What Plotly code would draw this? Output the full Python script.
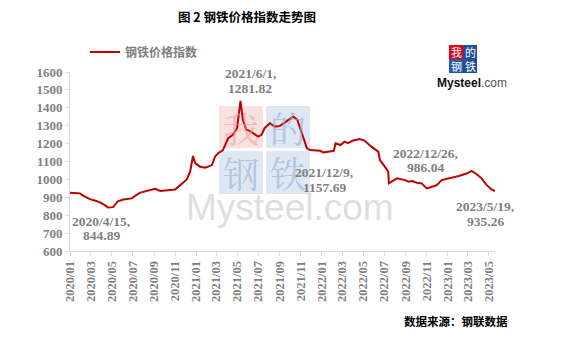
import plotly.graph_objects as go

# ---------------- data ----------------
dates = [
    "2020-01-01", "2020-01-30", "2020-02-09", "2020-02-28", "2020-03-17", "2020-03-27",
    "2020-04-11", "2020-04-20", "2020-05-05", "2020-05-19", "2020-06-04", "2020-06-28",
    "2020-07-21", "2020-08-11", "2020-09-04", "2020-09-19", "2020-10-08", "2020-11-01",
    "2020-11-16", "2020-12-05", "2020-12-15", "2020-12-23", "2020-12-30", "2021-01-13",
    "2021-01-28", "2021-02-16", "2021-02-25", "2021-03-06", "2021-03-20", "2021-04-04",
    "2021-04-18", "2021-04-30", "2021-05-10", "2021-05-17", "2021-05-27", "2021-06-06",
    "2021-06-16", "2021-06-30", "2021-07-10", "2021-07-19", "2021-08-03", "2021-08-18",
    "2021-09-02", "2021-09-21", "2021-10-10", "2021-10-22", "2021-11-04", "2021-11-19",
    "2021-11-28", "2021-12-27", "2022-01-06", "2022-02-05", "2022-02-10", "2022-02-24",
    "2022-03-08", "2022-03-18", "2022-04-02", "2022-04-21", "2022-05-05", "2022-05-25",
    "2022-06-14", "2022-06-19", "2022-07-03", "2022-07-13", "2022-07-15", "2022-08-07",
    "2022-08-31", "2022-09-10", "2022-09-20", "2022-10-04", "2022-10-18", "2022-11-02",
    "2022-11-17", "2022-12-01", "2022-12-15", "2023-01-09", "2023-02-03", "2023-02-27",
    "2023-03-12", "2023-03-26", "2023-04-10", "2023-04-25", "2023-05-09", "2023-05-19",
]
index_values = [
    925, 922, 908, 890, 879, 873,
    856, 843, 845, 878, 888, 894,
    925, 935, 947, 935, 940, 944,
    968, 1000, 1045, 1131, 1090, 1071,
    1065, 1080, 1127, 1146, 1164, 1230,
    1249, 1286, 1439, 1333, 1277, 1271,
    1258, 1239, 1249, 1286, 1314, 1295,
    1299, 1323, 1351, 1333, 1258, 1174,
    1164, 1160, 1151, 1160, 1202, 1192,
    1211, 1202, 1217, 1226, 1217, 1183,
    1155, 1108, 1071, 1043, 978, 1006,
    996, 987, 991, 981, 978, 950,
    959, 968, 996, 1006, 1019, 1034,
    1048, 1030, 1006, 968, 944, 935,
]
series_name = "钢铁价格指数"
y_ticks = [600, 700, 800, 900, 1000, 1100, 1200, 1300, 1400, 1500, 1600]
callouts = [
    ("2020/4/15,", "844.89", 101, 221, 235),
    ("2021/6/1,", "1281.82", 250, 73, 88),
    ("2021/12/9,", "1157.69", 324, 172, 187),
    ("2022/12/26,", "986.04", 425, 153, 167),
    ("2023/5/19,", "935.26", 485, 206, 221),
]
title_text = "图 2 钢铁价格指数走势图"
source_text = "数据来源：钢联数据"

# ---------------- layout helpers ----------------
W_FIG, H_FIG = 581, 341
L, T, PW, PH = 70, 72, 425, 179


def px(x):
    return (x - L) / PW


def py(y):
    return (T + PH - y) / PH


SERIF = "Liberation Serif, Times New Roman, serif"
CJK = "Noto Sans CJK SC, sans-serif"
GRAY = "#7f7f7f"

fig = go.Figure()
fig.add_trace(go.Scatter(
    x=dates, y=index_values, mode="lines", name=series_name,
    line=dict(color="#c00000", width=2),
))

shapes = []
annotations = []

# big watermark squares
wm = [
    ("我", 219, 106, 263, 148, "rgba(244,200,200,0.55)", "rgba(236,150,150,0.55)"),
    ("的", 266, 106, 310, 148, "rgba(200,215,235,0.6)", "rgba(150,175,210,0.6)"),
    ("钢", 219, 151, 263, 194, "rgba(200,215,235,0.6)", "rgba(150,175,210,0.6)"),
    ("铁", 266, 151, 310, 194, "rgba(200,215,235,0.6)", "rgba(150,175,210,0.6)"),
]
for ch, x0, y0, x1, y1, fill, chcol in wm:
    shapes.append(dict(type="rect", xref="paper", yref="paper", x0=px(x0), x1=px(x1),
                       y0=py(y1), y1=py(y0), fillcolor=fill, line=dict(width=0), layer="below"))
    annotations.append(dict(text=ch, xref="paper", yref="paper", x=px((x0 + x1) / 2),
                            y=py((y0 + y1) / 2), showarrow=False, xanchor="center", yanchor="middle",
                            font=dict(family="Noto Serif CJK SC, Noto Sans CJK SC", size=36, color=chcol)))
annotations.append(dict(text="Mysteel.com", xref="paper", yref="paper", x=px(290), y=py(207),
                        showarrow=False, xanchor="center", yanchor="middle",
                        font=dict(family="Liberation Sans, Arial", size=37, color="rgba(200,200,200,0.6)")))

# top-right logo
logo = [
    ("我", 449, 45, "#e60012"),
    ("的", 463, 45, "#1f4e9a"),
    ("钢", 449, 59, "#2a5aa8"),
    ("铁", 463, 59, "#1f4e9a"),
]
for ch, x0, y0, col in logo:
    shapes.append(dict(type="rect", xref="paper", yref="paper", x0=px(x0), x1=px(x0 + 14),
                       y0=py(y0 + 14), y1=py(y0), fillcolor=col, line=dict(width=0), layer="above"))
    annotations.append(dict(text=ch, xref="paper", yref="paper", x=px(x0 + 7), y=py(y0 + 7),
                            showarrow=False, xanchor="center", yanchor="middle",
                            font=dict(family=CJK, size=11, color="white")))
annotations.append(dict(text="<b>Mysteel</b><span style='color:#555'>.com</span>", xref="paper", yref="paper",
                        x=px(472), y=py(83), showarrow=False, xanchor="center", yanchor="middle",
                        font=dict(family="Liberation Sans, Arial", size=12, color="#111")))

# data callouts
for l1, l2, cx, y1, y2 in callouts:
    for txt, yy in ((l1, y1), (l2, y2)):
        annotations.append(dict(text="<b>%s</b>" % txt, xref="paper", yref="paper", x=px(cx), y=py(yy),
                                showarrow=False, xanchor="center", yanchor="middle",
                                font=dict(family=SERIF, size=13.5, color=GRAY)))

# title and source
annotations.append(dict(text="<b>%s</b>" % title_text, xref="paper", yref="paper", x=px(247), y=py(17),
                        showarrow=False, xanchor="center", yanchor="middle",
                        font=dict(family=CJK, size=12.5, color="#000")))
annotations.append(dict(text="<b>%s</b>" % source_text, xref="paper", yref="paper", x=px(456), y=py(321),
                        showarrow=False, xanchor="center", yanchor="middle",
                        font=dict(family=CJK, size=11.5, color="#000")))

fig.update_layout(
    width=W_FIG, height=H_FIG,
    margin=dict(l=L, r=W_FIG - L - PW, t=T, b=H_FIG - T - PH, pad=0),
    paper_bgcolor="white", plot_bgcolor="white",
    showlegend=True,
    legend=dict(x=px(85), y=py(52), xanchor="left", yanchor="middle", orientation="h",
                font=dict(family=CJK, size=12, color=GRAY, weight="bold"),
                bgcolor="rgba(0,0,0,0)", itemwidth=30),
    shapes=shapes, annotations=annotations,
)
fig.update_xaxes(
    type="date", range=["2020-01-01", "2023-05-19"],
    tick0="2020-01-01", dtick="M2", tickformat="%Y/%m", tickangle=-90,
    showgrid=False, zeroline=False,
    showline=True, linecolor="#d9d9d9", linewidth=1,
    ticks="outside", ticklen=4, tickcolor="#d9d9d9",
    tickfont=dict(family=SERIF, size=12.5, color=GRAY, weight="bold"),
)
fig.update_yaxes(
    range=[600, 1600], tickvals=y_ticks,
    showgrid=False, zeroline=False,
    showline=True, linecolor="#d9d9d9", linewidth=1,
    ticks="outside", ticklen=4, tickcolor="#d9d9d9",
    tickfont=dict(family=SERIF, size=13, color=GRAY, weight="bold"),
)

fig.write_html("out.html")
